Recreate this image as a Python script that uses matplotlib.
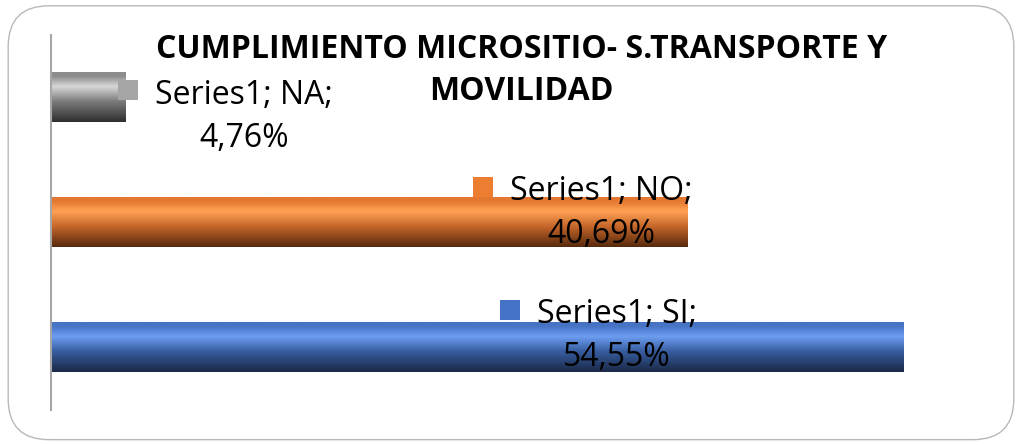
import numpy as np
import matplotlib
matplotlib.use('Agg')
from matplotlib import pyplot as plt
from matplotlib.colors import LinearSegmentedColormap
from matplotlib.patches import FancyBboxPatch

plt.rcParams['font.family'] = ['Open Sans', 'DejaVu Sans']

categories = ['SI', 'NO', 'NA']
values = [54.55, 40.69, 4.76]
series_name = 'Series1'
title_lines = ['CUMPLIMIENTO MICROSITIO- S.TRANSPORTE Y', 'MOVILIDAD']

# colours per bar: (top, highlight, middle, bottom), plus legend-key colour
shades = [('#4673c4', '#6d9df1', '#375c9e', '#1a2846'),
          ('#e47830', '#ffa254', '#c4652a', '#55290c'),
          ('#8c8c8c', '#d8d8d8', '#7a7a7a', '#2e2e2e')]
keys = ['#4472c4', '#ed7d31', '#a5a5a5']

# where the data labels sit (text left edge, vertical shift from bar centre)
label_x = [31.1, 29.35, 6.65]
label_dy = [0.09, 0.076, -0.154]

fig = plt.figure(figsize=(10.22, 4.45), dpi=100)
frame = FancyBboxPatch((0.008, 0.012), 0.984, 0.975, boxstyle='round,pad=0,rounding_size=0.04',
                       transform=fig.transFigure, facecolor='white', edgecolor='#b8b8b8',
                       lw=1.0, mutation_aspect=1022 / 445, zorder=-5)
fig.patches.append(frame)

ax = fig.add_axes([0.0499, 0.0787, 0.918, 0.843])
ax.patch.set_visible(False)

h = 0.4
for i, (v, sh) in enumerate(zip(values, shades)):
    bar = ax.barh(i, v, height=h, color=sh[0], edgecolor='none')[0]
    cmap = LinearSegmentedColormap.from_list('g%d' % i, [(0, sh[3]), (0.4, sh[2]), (0.7, sh[1]),
                                                         (0.9, sh[0]), (1, sh[0])])
    grad = np.linspace(0, 1, 256).reshape(-1, 1)
    im = ax.imshow(grad, cmap=cmap, aspect='auto', origin='lower',
                   extent=(0, v, i - h / 2, i + h / 2), zorder=2)
    im.set_clip_path(bar)

    ty = i + label_dy[i]
    ax.text(label_x[i], ty, '%s; %s;\n%s%%' % (series_name, categories[i], ('%.2f' % v).replace('.', ',')),
            ha='left', va='center', multialignment='center', fontsize=23,
            color='black', linespacing=1.4, zorder=4)
    ax.plot(label_x[i] - 1.75, ty + 0.21, marker='s', markersize=14, color=keys[i],
            markeredgewidth=0, zorder=3)

ax.set_xlim(0, 60)
ax.set_ylim(-0.5, 2.5)
for s in ['top', 'right', 'bottom']:
    ax.spines[s].set_visible(False)
ax.spines['left'].set_color('#a6a6a6')
ax.spines['left'].set_linewidth(1.5)
ax.set_xticks([])
ax.set_yticks([])

fig.text(0.51, 1 - 50 / 445, title_lines[0], ha='center', va='center', fontsize=23, fontweight='bold')
fig.text(0.51, 1 - 92 / 445, title_lines[1], ha='center', va='center', fontsize=23, fontweight='bold')

fig.savefig('out.png', dpi=100)
